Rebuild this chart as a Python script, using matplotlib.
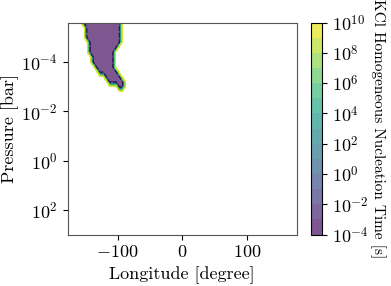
import numpy as np
import matplotlib
matplotlib.use("Agg")
import matplotlib.pyplot as plt
from matplotlib import ticker

plt.rcParams['font.family'] = 'serif'
plt.rcParams['font.serif'] = ['cmr10', 'DejaVu Serif']
plt.rcParams['mathtext.fontset'] = 'cm'
plt.rcParams['axes.formatter.use_mathtext'] = True

# log10 pressure rows that contain the short-time region, with its west/east edge (deg)
region_logp = [-5.6, -5.4, -5.2, -5.0, -4.8, -4.6, -4.4, -4.2, -4.0, -3.8, -3.6, -3.4, -3.2, -3.0]
region_west = [-157, -152, -150, -148, -147, -145, -143, -141, -138, -134, -129, -122, -113, -100]
region_east = [-93, -93, -93, -93, -96, -101, -105, -107, -107, -105, -101, -97, -92, -88]
inside_time = -3.5   # log10 nucleation time inside region [s]
outside_time = 11.0  # beyond colour range -> left blank

# model grid
lon = np.arange(-177.5, 180, 5.0)
logp = np.round(np.arange(-5.6, 3.01, 0.2), 2)

field = np.full((len(logp), len(lon)), outside_time)
for lp, w, e in zip(region_logp, region_west, region_east):
    i = int(np.argmin(np.abs(logp - lp)))
    field[i, (lon >= w) & (lon <= e)] = inside_time

levels = np.arange(-4, 11, 1)
LON, P = np.meshgrid(lon, 10.0**logp)

fig = plt.figure(figsize=(3.91, 2.86), dpi=100)
ax = fig.add_axes([0.173, 0.180, 0.586, 0.741])
cax = fig.add_axes([0.795, 0.180, 0.028, 0.741])

cs = ax.contourf(LON, P, field, levels=levels, cmap='viridis', alpha=0.7)
ax.contour(LON, P, field, levels=[-3], colors='#2a1a4a', linewidths=0.9)
ax.set_yscale('log')
ax.set_ylim(10.0**logp[-1], 10.0**logp[0])
ax.set_xlim(lon[0], lon[-1])
ax.set_yticks([1e-4, 1e-2, 1e0, 1e2])
ax.yaxis.set_minor_locator(ticker.NullLocator())
ax.set_xticks([-100, 0, 100])
ax.set_xlabel('Longitude [degree]', fontsize=13)
ax.set_ylabel('Pressure [bar]', fontsize=13, labelpad=2)
ax.tick_params(labelsize=13)
for s in ax.spines.values():
    s.set_color('#555555')

cb = fig.colorbar(cs, cax=cax)
cb.set_ticks(np.arange(-4, 11, 2))
cb.set_ticklabels([r'$10^{%d}$' % v for v in np.arange(-4, 11, 2)])
cb.ax.tick_params(labelsize=13)
cb.set_label('KCl Homogeneous Nucleation Time [s]', rotation=270, labelpad=13, fontsize=11)

fig.savefig('out.png', dpi=100)
